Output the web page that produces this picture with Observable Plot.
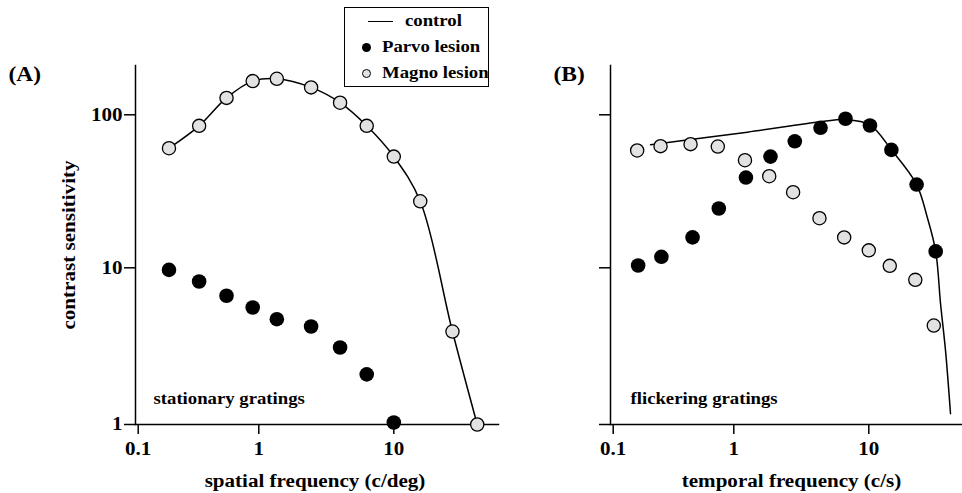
<!DOCTYPE html>
<html>
<head>
<meta charset="utf-8">
<script src="https://cdn.jsdelivr.net/npm/d3@7"></script>
<script src="https://cdn.jsdelivr.net/npm/@observablehq/plot@0.6"></script>
<style>
  html, body { margin: 0; padding: 0; background: #fff; }
  #chart { position: relative; width: 962px; height: 493px; overflow: hidden; background: #fff;
           font-family: "Liberation Serif", "Times New Roman", serif; font-weight: bold; color: #000; }
  #chart svg { position: absolute; top: 0; }
  .legend { position: absolute; left: 344px; top: 7px; width: 145px; height: 80px; box-sizing: border-box;
            border: 1.3px solid #000; background: #fff; }
  .legend .row { position: absolute; left: 0; height: 26px; display: flex; align-items: center; }
  .legend .lt { display: inline-block; font-size: 16px; transform: scaleX(1.17); transform-origin: left center; white-space: nowrap; }
  .legend .swline { display: inline-block; width: 25px; height: 0; border-top: 1.6px solid #000; }
  .legend .swdot { display: inline-block; width: 9px; height: 9px; border-radius: 50%; box-sizing: border-box; }
</style>
</head>
<body>
<div id="chart"></div>
<script>
// ---------- data ----------
const seriesNames = ["control", "Parvo lesion", "Magno lesion"];
const panelLabels = ["(A)", "(B)"];
const xTitles = ["spatial frequency (c/deg)", "temporal frequency (c/s)"];
const yTitle = "contrast sensitivity";
const notes = ["stationary gratings", "flickering gratings"];
const xTicks = [0.1, 1, 10];
const yTicks = [1, 10, 100];

// Panel A: spatial frequency
const magnoSpatialFreq = [0.18, 0.32, 0.54, 0.89, 1.36, 2.44, 4.0, 6.3, 10, 15.7, 27.2, 41.5];
const magnoSpatial     = [60.5, 84.7, 129, 166, 172, 151, 120, 84.7, 53.3, 27.2, 3.92, 1.0];
const parvoSpatialFreq = [0.18, 0.32, 0.54, 0.89, 1.36, 2.44, 4.0, 6.3, 10];
const parvoSpatial     = [9.7, 8.18, 6.63, 5.58, 4.7, 4.22, 3.10, 2.09, 1.03];
const controlSpatialFreq = [0.18, 0.32, 0.54, 0.89, 1.36, 2.44, 4.0, 6.3, 10, 15.7, 27.2, 41.5];
const controlSpatial     = [60.5, 84.7, 129, 166, 172, 151, 120, 84.7, 53.3, 27.2, 3.92, 1.0];

// Panel B: temporal frequency
const magnoTemporalFreq = [0.158, 0.247, 0.438, 0.737, 1.21, 1.83, 2.75, 4.31, 6.57, 10, 14.3, 22.1, 30.3];
const magnoTemporal     = [58.5, 62.4, 64.3, 62, 50.5, 39.7, 31.2, 21.1, 15.8, 13.0, 10.3, 8.38, 4.28];
const parvoTemporalFreq = [0.161, 0.251, 0.455, 0.751, 1.23, 1.87, 2.83, 4.39, 6.72, 10.2, 14.7, 22.6, 31.3];
const parvoTemporal     = [10.35, 11.8, 15.8, 24.4, 38.9, 53.3, 67.1, 82.2, 94.2, 85.1, 59, 35, 12.8];
const controlTemporalFreq = [0.204, 1.26, 4.4, 6.7, 10.2, 14.7, 22.6, 27.1, 31.3, 34, 37, 40.3];
const controlTemporal     = [63.7, 77, 90, 93, 86, 59, 35, 21.4, 12.8, 5.9, 2.97, 1.17];

// ---------- drawing ----------
const FONT = '"Liberation Serif", "Times New Roman", serif';
const STRETCH = 1.17;
const rows = (xs, ys) => xs.map((x, i) => ({x, y: ys[i]}));

// the original log axes are drawn with slightly unequal decades: piecewise log scales
const xScale = {type: "log", domain: [0.1, 1, 10, 100], range: [137.7, 258.3, 393.3, 528.3]};
const yScale = {type: "log", domain: [1, 10, 100, 1000], range: [424, 267.3, 114.3, -38.7]};

function panel(o) {
  return Plot.plot({
    width: o.width, height: 493,
    marginLeft: 135, marginRight: o.marginRight, marginTop: 65, marginBottom: 69,
    x: xScale, y: yScale,
    style: {background: "transparent", fontFamily: FONT, fontWeight: "bold", fontSize: "18px", color: "#000", overflow: "visible"},
    marks: [
      Plot.frame({anchor: "left", stroke: "#000", strokeWidth: 1.5}),
      Plot.frame({anchor: "bottom", stroke: "#000", strokeWidth: 1.5}),
      Plot.axisX(xTicks, {tickSize: 10, tickPadding: 8, strokeWidth: 1.5, fontSize: 18, label: null,
                          tickFormat: d => String(d)}),
      Plot.axisY(yTicks, {tickSize: 11, tickPadding: 2, strokeWidth: 1.5, fontSize: 18, label: null,
                          tickFormat: o.showY ? (d => String(d)) : (() => "")}),
      Plot.line(rows(o.cx, o.cy), {x: "x", y: "y", curve: "catmull-rom", stroke: "#000", strokeWidth: 1.5}),
      Plot.dot(rows(o.mx, o.my), {x: "x", y: "y", r: 6.6, fill: "#e2e2e2", stroke: "#000", strokeWidth: 1.3}),
      Plot.dot(rows(o.px, o.py), {x: "x", y: "y", r: 7.3, fill: "#000"}),
      Plot.text([o.note], {text: d => d, frameAnchor: "bottom-left", textAnchor: "start", lineAnchor: "middle",
                           dx: o.noteDx, dy: -26, fontSize: 16}),
      Plot.text([o.panel], {text: d => d, frameAnchor: "top-left", textAnchor: "start", lineAnchor: "middle",
                            dx: o.panelDx, dy: 9, fontSize: 20}),
      Plot.text([o.xTitle], {text: d => d, frameAnchor: "bottom", textAnchor: "middle", lineAnchor: "middle",
                             dx: o.xTitleDx, dy: 57, fontSize: 18}),
      ...(o.showY ? [Plot.text([yTitle], {text: d => d, frameAnchor: "left", textAnchor: "middle", lineAnchor: "middle",
                                          rotate: -90, dx: -66, dy: 0, fontSize: 18})] : [])
    ]
  });
}

const chart = document.getElementById("chart");

const svgA = panel({
  width: 500, marginRight: 2, showY: true,
  cx: controlSpatialFreq, cy: controlSpatial,
  mx: magnoSpatialFreq, my: magnoSpatial,
  px: parvoSpatialFreq, py: parvoSpatial,
  note: notes[0], noteDx: 18, panel: panelLabels[0], panelDx: -127,
  xTitle: xTitles[0], xTitleDx: -2
});
svgA.style.left = "0px";
chart.appendChild(svgA);

const svgB = panel({
  width: 487, marginRight: 0, showY: false,
  cx: controlTemporalFreq, cy: controlTemporal,
  mx: magnoTemporalFreq, my: magnoTemporal,
  px: parvoTemporalFreq, py: parvoTemporal,
  note: notes[1], noteDx: 20, panel: panelLabels[1], panelDx: -57,
  xTitle: xTitles[1], xTitleDx: 5
});
svgB.style.left = "475px";
chart.appendChild(svgB);

// the original typeface is set slightly wide: stretch every label horizontally
for (const t of chart.querySelectorAll("svg text")) {
  if (!t.textContent) continue;
  const len = t.getComputedTextLength();
  if (len > 0) {
    t.setAttribute("textLength", (len * STRETCH).toFixed(2));
    t.setAttribute("lengthAdjust", "spacingAndGlyphs");
  }
}

// legend
const legend = document.createElement("div");
legend.className = "legend";
const legendSpec = [
  {name: seriesNames[0], sw: '<span class="swline"></span>', left: 23, gap: 12},
  {name: seriesNames[1], sw: '<span class="swdot" style="background:#000"></span>', left: 17, gap: 11},
  {name: seriesNames[2], sw: '<span class="swdot" style="background:#e2e2e2;border:1.2px solid #000"></span>', left: 17, gap: 11}
];
legendSpec.forEach((s, i) => {
  const row = document.createElement("div");
  row.className = "row";
  row.style.top = (i * 26) + "px";
  row.style.left = s.left + "px";
  row.innerHTML = s.sw + `<span class="lt" style="margin-left:${s.gap}px">${s.name}</span>`;
  legend.appendChild(row);
});
chart.appendChild(legend);
</script>
</body>
</html>
